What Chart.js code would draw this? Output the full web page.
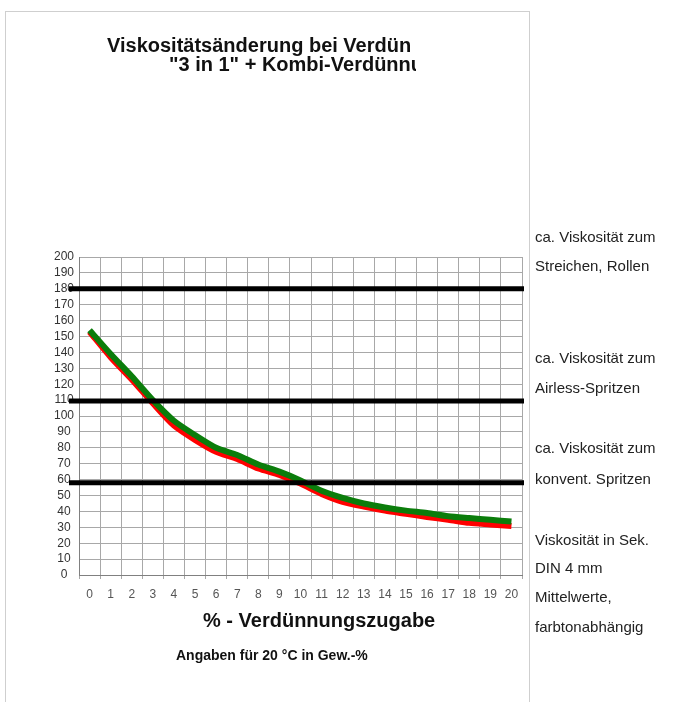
<!DOCTYPE html>
<html>
<head>
<meta charset="utf-8">
<script src="https://cdn.jsdelivr.net/npm/chart.js@4"></script>
<style>
  body { margin: 0; background: #fff; font-family: "Liberation Sans", Arial, sans-serif; }
  #wrap { position: relative; width: 686px; height: 702px; overflow: hidden; }
  #frame { position: absolute; left: 5px; top: 11px; width: 523px; height: 700px;
           border: 1px solid #cfcfcf; border-bottom: none; }
  #chartBox { position: absolute; left: 0; top: 0; width: 686px; height: 702px; }
  .t { position: absolute; white-space: nowrap; color: #111; }
  .title { font-weight: bold; font-size: 20px; line-height: 20px; }
  .side { font-size: 15px; line-height: 15px; color: #222; left: 535px; }
</style>
</head>
<body>
<div id="wrap">
  <div id="frame"></div>
  <div id="chartBox"><canvas id="chart"></canvas></div>
  <div class="t title" style="left:107px; top:35px;">Viskositätsänderung bei Verdün</div>
  <div class="t title" style="left:169px; top:54px; width:247px; overflow:hidden;">"3 in 1" + Kombi-Verdünnung</div>
  <div class="t title" style="left:203px; top:610px;">% - Verdünnungszugabe</div>
  <div class="t" style="left:176px; top:648px; font-weight:bold; font-size:14px; line-height:14px;">Angaben für 20 °C in Gew.-%</div>
  <div id="side"></div>
</div>
<script>
const categories = ['0', '1', '2', '3', '4', '5', '6', '7', '8', '9', '10',
                    '11', '12', '13', '14', '15', '16', '17', '18', '19', '20'];
const greenValues = [154, 139, 125, 110, 97, 88, 80, 75.5, 69.5, 65, 59.5,
                     53, 48.5, 45, 42.5, 40.5, 39, 37, 35.8, 34.7, 33.6];
const redValues = [153, 137, 123, 108, 94, 85, 77.5, 73, 67, 63, 57.5,
                   51, 46, 43, 40.5, 38.5, 36.5, 34.8, 32.8, 31.8, 30.8];
const limitValues = [180, 109.5, 58];
const sideLines = [
  ['ca. Viskosität zum', 229], ['Streichen, Rollen', 258],
  ['ca. Viskosität zum', 350], ['Airless-Spritzen', 380],
  ['ca. Viskosität zum', 440], ['konvent. Spritzen', 471],
  ['Viskosität in Sek.', 532], ['DIN 4 mm', 560],
  ['Mittelwerte,', 589], ['farbtonabhängig', 619]
];

document.getElementById('side').innerHTML = sideLines.map(([txt, top]) =>
  `<div class="t side" style="top:${top}px">${txt}</div>`).join('');

// thick black reference lines, reaching a bit left of the y axis
const limitLines = {
  id: 'limitLines',
  afterDatasetsDraw(chart) {
    const { ctx, chartArea, scales } = chart;
    ctx.save();
    ctx.strokeStyle = '#000';
    ctx.lineWidth = 5;
    limitValues.forEach(v => {
      const y = scales.y.getPixelForValue(v);
      ctx.beginPath();
      ctx.moveTo(chartArea.left - 10, y);
      ctx.lineTo(chartArea.right + 2, y);
      ctx.stroke();
    });
    ctx.restore();
  }
};

const gridColor = '#a8a8a8';

new Chart(document.getElementById('chart'), {
  type: 'line',
  data: {
    labels: categories,
    datasets: [
      { data: greenValues, borderColor: '#0b7d0b', borderWidth: 6, pointRadius: 0, tension: 0.25, order: 1 },
      { data: redValues, borderColor: '#ff0000', borderWidth: 6, pointRadius: 0, tension: 0.25, order: 2 }
    ]
  },
  options: {
    responsive: true,
    maintainAspectRatio: false,
    animation: false,
    layout: { padding: { top: 257, right: 164, left: 0, bottom: 0 } },
    plugins: { legend: { display: false }, tooltip: { enabled: false }, title: { display: false } },
    scales: {
      x: {
        offset: true,
        grid: { color: gridColor, offset: true, tickLength: 4 },
        border: { color: '#808080' },
        ticks: { color: '#555', font: { family: 'Liberation Sans', size: 12 }, padding: 8, maxRotation: 0, autoSkip: false },
        afterFit(scale) { scale.height = 127; }
      },
      y: {
        min: 0,
        max: 200,
        grid: { color: gridColor, drawTicks: false },
        border: { color: '#808080' },
        ticks: { stepSize: 10, autoSkip: false, color: '#333', font: { family: 'Liberation Sans', size: 12 }, padding: 5, crossAlign: 'center' },
        afterFit(scale) { scale.width = 79; }
      }
    }
  },
  plugins: [limitLines]
});
</script>
</body>
</html>
